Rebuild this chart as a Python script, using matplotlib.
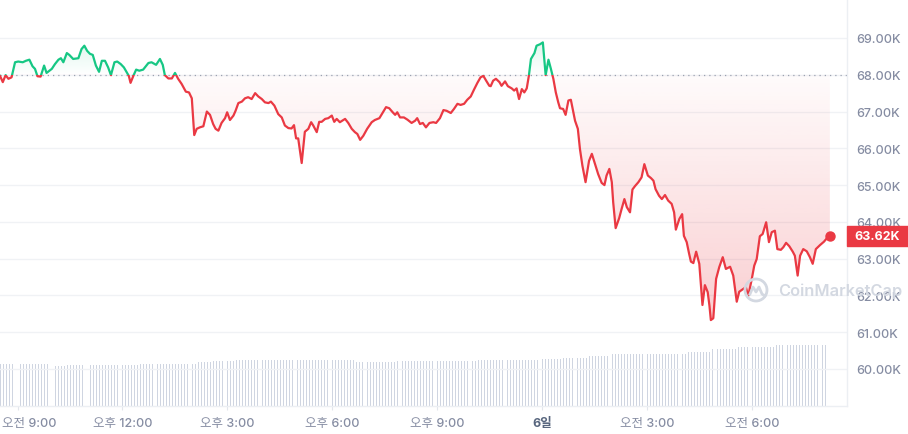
import numpy as np
import matplotlib
matplotlib.use("Agg")
import matplotlib.pyplot as plt
from matplotlib.patches import Rectangle, Ellipse
from matplotlib.lines import Line2D

plt.rcParams["font.family"] = ["Inter", "Noto Sans CJK KR", "DejaVu Sans"]

# hours since 00:00 on the 5th, BTC price in thousands of USD
times = [
    8.50, 8.58, 8.66, 8.74, 8.83, 8.93, 9.02, 9.15, 9.24, 9.34, 9.43, 9.50, 9.57, 9.66, 9.76, 9.83,
    9.98, 10.07, 10.17, 10.24, 10.31, 10.41, 10.48, 10.59, 10.74, 10.83, 10.91, 10.99, 11.07, 11.15,
    11.24, 11.33, 11.41, 11.50, 11.59, 11.67, 11.77, 11.85, 11.95, 12.04, 12.12, 12.18, 12.23, 12.31,
    12.39, 12.48, 12.59, 12.74, 12.83, 12.96, 13.07, 13.15, 13.21, 13.31, 13.41, 13.50, 13.59, 13.69,
    13.81, 13.90, 13.98, 14.05, 14.12, 14.21, 14.31, 14.41, 14.50, 14.59, 14.66, 14.74, 14.83, 14.93,
    14.99, 15.07, 15.17, 15.23, 15.31, 15.41, 15.50, 15.59, 15.69, 15.79, 15.88, 15.98, 16.07, 16.17,
    16.24, 16.34, 16.45, 16.55, 16.64, 16.74, 16.83, 16.90, 16.96, 17.02, 17.12, 17.21, 17.31, 17.39,
    17.45, 17.55, 17.62, 17.69, 17.79, 17.88, 17.98, 18.05, 18.12, 18.21, 18.36, 18.45, 18.55, 18.64,
    18.71, 18.79, 18.88, 18.99, 19.12, 19.21, 19.34, 19.43, 19.53, 19.62, 19.72, 19.79, 19.85, 19.93,
    20.04, 20.14, 20.26, 20.36, 20.42, 20.50, 20.58, 20.67, 20.77, 20.88, 20.96, 21.07, 21.17, 21.26,
    21.38, 21.47, 21.57, 21.66, 21.76, 21.85, 21.95, 22.04, 22.14, 22.23, 22.31, 22.39, 22.48, 22.52,
    22.59, 22.67, 22.77, 22.83, 22.93, 23.01, 23.12, 23.19, 23.26, 23.33, 23.41, 23.48, 23.55, 23.61,
    23.67, 23.77, 23.83, 23.93, 24.01, 24.09, 24.17, 24.24, 24.31, 24.38, 24.45, 24.50, 24.59, 24.66,
    24.74, 24.81, 24.88, 24.93, 25.01, 25.07, 25.14, 25.23, 25.33, 25.41, 25.50, 25.59, 25.69, 25.77,
    25.83, 25.91, 25.98, 26.02, 26.09, 26.19, 26.26, 26.34, 26.41, 26.50, 26.57, 26.64, 26.74, 26.83,
    26.91, 27.01, 27.10, 27.17, 27.23, 27.33, 27.41, 27.50, 27.59, 27.69, 27.76, 27.81, 27.91, 27.99,
    28.04, 28.12, 28.19, 28.24, 28.31, 28.39, 28.48, 28.57, 28.64, 28.72, 28.77, 28.81, 28.88, 28.96,
    29.05, 29.15, 29.24, 29.36, 29.45, 29.55, 29.62, 29.74, 29.81, 29.88, 29.98, 30.05, 30.12, 30.21,
    30.29, 30.39, 30.47, 30.55, 30.64, 30.71, 30.81, 30.88, 30.96, 31.05, 31.15, 31.21, 31.29, 31.36,
    31.45, 31.55, 31.64, 31.72, 31.81, 31.93, 32.04, 32.12, 32.21,
]
prices = [
    67.97, 67.80, 67.99, 67.89, 67.93, 68.34, 68.36, 68.34, 68.38, 68.41, 68.23, 68.16, 67.96, 67.95, 68.25, 68.05,
    68.16, 68.29, 68.41, 68.45, 68.34, 68.59, 68.54, 68.43, 68.45, 68.70, 68.79, 68.65, 68.57, 68.54,
    68.25, 68.08, 68.38, 68.38, 68.20, 67.99, 68.34, 68.36, 68.29, 68.20, 68.07, 67.97, 67.78, 67.97,
    68.14, 68.11, 68.14, 68.32, 68.34, 68.27, 68.43, 68.27, 67.99, 67.90, 67.90, 68.05, 67.89, 67.75,
    67.54, 67.52, 67.36, 66.36, 66.53, 66.57, 66.60, 67.00, 66.91, 66.66, 66.53, 66.48, 66.69, 66.82,
    66.98, 66.77, 66.89, 67.02, 67.23, 67.27, 67.36, 67.39, 67.34, 67.50, 67.41, 67.34, 67.25, 67.23,
    67.27, 67.16, 66.93, 66.84, 66.62, 66.55, 66.54, 66.63, 66.27, 66.27, 65.60, 66.45, 66.53, 66.71,
    66.62, 66.44, 66.72, 66.72, 66.80, 66.82, 66.89, 66.72, 66.80, 66.71, 66.80, 66.69, 66.53, 66.44,
    66.39, 66.23, 66.34, 66.53, 66.71, 66.77, 66.82, 66.96, 67.12, 67.09, 66.98, 66.91, 66.98, 66.84,
    66.84, 66.78, 66.69, 66.75, 66.82, 66.66, 66.69, 66.57, 66.69, 66.71, 66.69, 66.82, 67.04, 67.02,
    66.96, 67.07, 67.21, 67.18, 67.21, 67.32, 67.41, 67.59, 67.78, 67.93, 67.97, 67.84, 67.70, 67.69,
    67.84, 67.89, 67.80, 67.70, 67.82, 67.69, 67.63, 67.57, 67.63, 67.34, 67.61, 67.52, 67.63, 67.97,
    68.43, 68.59, 68.79, 68.83, 68.88, 67.99, 68.41, 68.16, 67.89, 67.52, 67.25, 67.09, 67.07, 66.91,
    67.30, 67.32, 66.98, 66.75, 66.53, 65.98, 65.53, 65.08, 65.66, 65.85, 65.57, 65.30, 65.06, 65.00,
    65.26, 65.44, 65.08, 64.53, 63.83, 64.10, 64.35, 64.62, 64.40, 64.26, 64.88, 64.97, 65.08, 65.21,
    65.57, 65.26, 65.19, 65.12, 64.89, 64.71, 64.62, 64.73, 64.58, 64.49, 64.26, 63.79, 64.08, 64.21,
    63.62, 63.45, 63.13, 62.92, 62.88, 63.19, 62.86, 61.74, 62.28, 62.09, 61.72, 61.33, 61.38, 62.45,
    62.77, 63.04, 62.72, 62.78, 62.54, 61.83, 62.10, 62.18, 62.22, 61.99, 62.45, 62.81, 62.99, 63.61,
    63.67, 63.99, 63.45, 63.72, 63.76, 63.26, 63.24, 63.31, 63.43, 63.34, 63.19, 63.08, 62.54, 63.08,
    63.26, 63.20, 63.04, 62.86, 63.26, 63.37, 63.46, 63.55, 63.62,
]
open_price = 68.00

# 24h volume (billion USD), read as runs of 5-minute bars
vol_levels = [33.6, 32.2, 32.8, 33.6, 35.0, 35.8, 36.8, 35.4, 36.0, 36.8, 37.6, 38.4,
              39.8, 41.4, 43.0, 45.6, 47.0, 49.0]
vol_counts = [18, 5, 25, 20, 5, 8, 41, 14, 28, 22, 7, 9, 7, 27, 8, 9, 13, 18]

tick_hours = [9, 12, 15, 18, 21, 24, 27, 30]
tick_labels = ["오전 9:00", "오후 12:00", "오후 3:00", "오후 6:00", "오후 9:00", "6일", "오전 3:00", "오전 6:00"]
y_ticks = [60, 61, 62, 63, 64, 65, 66, 67, 68, 69]

RED = "#ea3943"
GREEN = "#16c784"
GREY = "#858ca2"
GRID = "#f0f2f5"

W, H = 908, 435
fig = plt.figure(figsize=(W / 100, H / 100), dpi=100)
rect = [0, 28 / H, 847 / W, 407 / H]
xlim = (8.5, 8.5 + 847 / 35)
ylim = (58.994, 70.06)

# volume bars live in their own axes underneath
ax_vol = fig.add_axes(rect, zorder=0)
vols = np.repeat(vol_levels, vol_counts)
bar_t = times[0] + np.arange(len(vols)) * 5 / 60
ax_vol.bar(bar_t, vols, width=0.026, align="edge", color="#cfd5e1", linewidth=0)
ax_vol.set_xlim(*xlim)
ax_vol.set_ylim(0, 325.6)
ax_vol.axis("off")

ax = fig.add_axes(rect, zorder=1)
ax.patch.set_alpha(0)

t = np.array(times)
p = np.array(prices)

# gradient fills, clipped to the area between price and open
poly = ax.fill_between(t, p, open_price, color="none", linewidth=0)
clip = poly.get_paths()[0]

red_grad = np.zeros((256, 1, 4))
red_grad[:, 0, :3] = matplotlib.colors.to_rgb(RED)
red_grad[:, 0, 3] = np.linspace(0.32, 0.02, 256)
im = ax.imshow(red_grad, extent=(t[0], t[-1], ylim[0], open_price), origin="lower",
               aspect="auto", interpolation="bilinear", zorder=1)
im.set_clip_path(clip, transform=ax.transData)

green_grad = np.zeros((256, 1, 4))
green_grad[:, 0, :3] = matplotlib.colors.to_rgb(GREEN)
green_grad[:, 0, 3] = np.linspace(0.0, 0.16, 256)
im2 = ax.imshow(green_grad, extent=(t[0], t[-1], open_price, 69.0), origin="lower",
                aspect="auto", interpolation="bilinear", zorder=1)
im2.set_clip_path(clip, transform=ax.transData)

# price line: red below open, green above
above = Rectangle((0, open_price), 40, 20, transform=ax.transData)
below = Rectangle((0, open_price - 20), 40, 20, transform=ax.transData)
l_red, = ax.plot(t, p, color=RED, lw=1.6, zorder=3, solid_joinstyle="round")
l_red.set_clip_path(below)
l_green, = ax.plot(t, p, color=GREEN, lw=1.6, zorder=3, solid_joinstyle="round")
l_green.set_clip_path(above)
ax.plot(t[-1], p[-1], "o", color=RED, ms=6.5, zorder=4)

ax.axhline(open_price, color="#9aa1b0", lw=0.9, ls=(0, (1, 3.2)), zorder=2)

ax.set_xlim(*xlim)
ax.set_ylim(*ylim)

ax.set_yticks(y_ticks)
ax.set_yticklabels([f"{v:.2f}K" for v in y_ticks])
ax.yaxis.tick_right()
ax.tick_params(axis="y", length=0, pad=7, labelsize=9, labelcolor=GREY)
ax.yaxis.grid(True, color=GRID, lw=1)
ax.set_axisbelow(True)
for lbl in ax.get_yticklabels():
    lbl.set_fontweight("medium")

ax.set_xticks(tick_hours)
ax.set_xticklabels(tick_labels)
ax.tick_params(axis="x", length=3, color="#e3e6ec", pad=5, labelsize=9, labelcolor=GREY)
for lbl in ax.get_xticklabels():
    lbl.set_fontweight("medium")
    if lbl.get_text() == "6일":
        lbl.set_color("#58667e")
        lbl.set_fontweight("bold")
first = ax.get_xticklabels()[0]
first.set_horizontalalignment("left")
first.set_transform(first.get_transform() + matplotlib.transforms.ScaledTranslation(-0.15, 0, fig.dpi_scale_trans))

for side in ("left", "top"):
    ax.spines[side].set_visible(False)
for side in ("right", "bottom"):
    ax.spines[side].set_color("#eceff3")
    ax.spines[side].set_linewidth(1)

# current price tag
tag_h = 20 / (407 / (ylim[1] - ylim[0]))
ax.add_patch(Rectangle((1.0, p[-1] - tag_h / 2), 61 / 847, tag_h, transform=ax.get_yaxis_transform(),
                       color=RED, clip_on=False, zorder=5))
ax.text(1.0 + 30 / 847, p[-1], f"{p[-1]:.2f}K", transform=ax.get_yaxis_transform(),
        ha="center", va="center", color="white", fontsize=9, fontweight="bold", zorder=6)

# watermark (it sits over the 62.00K label in the original too)
wm = "#d3d8e1"
fig.text(778 / W, 1 - 291 / H, "CoinMarketCap", color=wm, fontsize=11.8, fontweight="semibold",
         va="center", ha="left", zorder=7)
cx, cy = 756, 291
fig.patches.append(Ellipse((cx / W, 1 - cy / H), 22 / W, 22 / H, transform=fig.transFigure,
                           fill=False, edgecolor=wm, lw=2, zorder=7))
mx = [cx - 6, cx - 3, cx, cx + 3, cx + 6, cx + 9]
my = [cy + 4, cy - 3, cy + 2, cy - 3, cy + 4, cy + 6]
fig.lines.append(Line2D([v / W for v in mx], [1 - v / H for v in my], transform=fig.transFigure,
                        color=wm, lw=2, zorder=7))

fig.savefig("out.png", dpi=100)
